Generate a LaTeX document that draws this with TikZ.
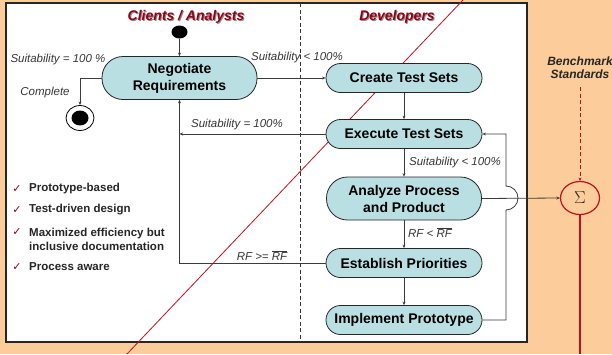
\documentclass[tikz,border=0pt]{standalone}
\usepackage{fontspec}
\setmainfont{Liberation Sans}
\newfontfamily\dejavu{DejaVu Sans}
\usetikzlibrary{arrows.meta,shapes.geometric}
\definecolor{peach}{RGB}{253,204,155}
\definecolor{actfill}{RGB}{185,223,226}
\definecolor{titlered}{RGB}{150,0,20}
\definecolor{linered}{RGB}{192,16,32}
\definecolor{linegray}{RGB}{60,60,60}
\definecolor{lblgray}{RGB}{55,55,55}
\begin{document}
\begin{tikzpicture}[x=1pt,y=-1pt,
  act/.style={draw=black!85, line width=0.8pt, fill=actfill, rounded corners=14.5pt,
    minimum width=156pt, minimum height=29pt, inner sep=0pt,
    font=\fontsize{14}{17}\selectfont\bfseries, align=center},
  acttwo/.style={act, rounded corners=21pt, minimum height=43pt, minimum width=155pt},
  conn/.style={draw=linegray, line width=0.8pt},
  arr/.style={conn, -{Stealth[length=3.5pt,width=3pt]}},
  lbl/.style={font=\fontsize{11.5}{13}\selectfont\itshape, text=lblgray, inner sep=0pt},
  ttl/.style={font=\fontsize{14}{17}\selectfont\bfseries\itshape, text=titlered, inner sep=0pt},
  ttlshadow/.style={ttl, text=black!45},
  chk/.style={font=\dejavu\fontsize{11}{12}\selectfont, text=titlered, inner sep=0pt},
  item/.style={font=\fontsize{11.5}{14}\selectfont\bfseries, text=black!85, inner sep=0pt, anchor=west, align=left},
]
\useasboundingbox (0,0) rectangle (612,354);
\fill[peach] (0,0) rectangle (612,354);
\draw[line width=1.5pt, draw=black!85, fill=white] (6,3) rectangle (527,342);
\coordinate (divtop) at (300,3);
\coordinate (divbot) at (300,342);
\draw[black!80, line width=0.8pt, dash pattern=on 4pt off 2.5pt] (divtop) -- (divbot);
% diagonal red line
\coordinate (d1) at (127,354);
\coordinate (d2) at (463,0);
\draw[linered, line width=0.8pt] (d1) -- (d2);

% titles
\node[ttlshadow] at (187,18) {Clients / Analysts};
\node[ttl] (tclient) at (186,17) {Clients / Analysts};
\node[ttlshadow] at (398,18) {Developers};
\node[ttl] (tdev) at (397,17) {Developers};

% activities
\node[acttwo] (neg) at (179.5,78) {Negotiate\\Requirements};
\node[act] (cts) at (404,78) {Create Test Sets};
\node[act] (ets) at (404,134) {Execute Test Sets};
\node[acttwo] (apr) at (404,198.5) {Analyze Process\\and Product};
\node[act] (est) at (404,263) {Establish Priorities};
\node[act] (imp) at (404,320) {Implement Prototype};

% start / end
\node[ellipse, fill=black, minimum width=16pt, minimum height=13pt, inner sep=0pt] (start) at (179.5,32) {};
\node[ellipse, draw=black, line width=0.8pt, fill=white, minimum width=28pt, minimum height=25pt, inner sep=0pt] (end) at (80,118) {};
\node[ellipse, fill=black, minimum width=17pt, minimum height=15pt, inner sep=0pt] (endin) at (80,118) {};

% sigma
\node[ellipse, draw=linered, line width=1.2pt, fill=peach, minimum width=39pt, minimum height=33pt, inner sep=0pt,
  font=\fontsize{17}{17}\selectfont, text=black!85] (sig) at (580,198) {$\Sigma$};
\node[font=\fontsize{12}{13}\selectfont\bfseries\itshape, align=center, text=black!85, inner sep=1pt] (bench) at (580,67.5) {Benchmark\\Standards};
\coordinate (benchend) at (580,87);

% connectors
\draw[arr] (start) -- (neg);
\draw[arr] (neg.west) -| (end.north);
\draw[arr] (neg.east) -- (cts.west);
\draw[arr] (cts) -- (ets);
\draw[arr] (ets) -- (apr);
\draw[arr] (apr) -- (est);
\draw[arr] (est) -- (imp);
\coordinate (jn) at (179.5,263);
\draw[arr] (est.west) -- (jn) -- (neg.south);
\draw[arr] (ets.west) -- (ets.west -| neg.south);
\coordinate (loopb) at (506,320);
\coordinate (hopb) at (506,210);
\coordinate (loopt) at (506,134);
\draw[arr] (imp.east) -- (loopb) -- (hopb) arc[start angle=90,end angle=-90,radius=12] -- (loopt) -- (ets.east);
\draw[arr] (apr.east) -- (sig.west);
\draw[draw=linered, line width=0.9pt, dash pattern=on 4pt off 2.5pt, -{Stealth[length=3.5pt,width=3pt]}] (benchend) -- (sig.north);
\coordinate (sigout) at (580,354);
\draw[draw=linered, line width=1.5pt] (sig.south) -- (sigout);

% labels
\node[lbl] (l1) at (58,60) {Suitability = 100 \%};
\node[lbl] (l2) at (45,93) {Complete};
\node[lbl] (l3) at (297,58) {Suitability < 100\%};
\node[lbl] (l4) at (237,125) {Suitability = 100\%};
\node[lbl] (l5) at (455,163) {Suitability < 100\%};
\node[lbl] (l6) at (430,233) {RF < $\overline{\mbox{\itshape RF}}$};
\node[lbl] (l7) at (262,256) {RF >= $\overline{\mbox{\itshape RF}}$};

% checklist
\node[chk] (c1) at (17,189) {✓};
\node[item] (t1) at (29,189) {Prototype-based};
\node[chk] (c2) at (17,210) {✓};
\node[item] (t2) at (29,210) {Test-driven design};
\node[chk] (c3) at (17,232) {✓};
\node[item] (t3) at (29,239) {Maximized efficiency but\\inclusive documentation};
\node[chk] (c4) at (17,267) {✓};
\node[item] (t4) at (29,267) {Process aware};
\end{tikzpicture}
\end{document}
